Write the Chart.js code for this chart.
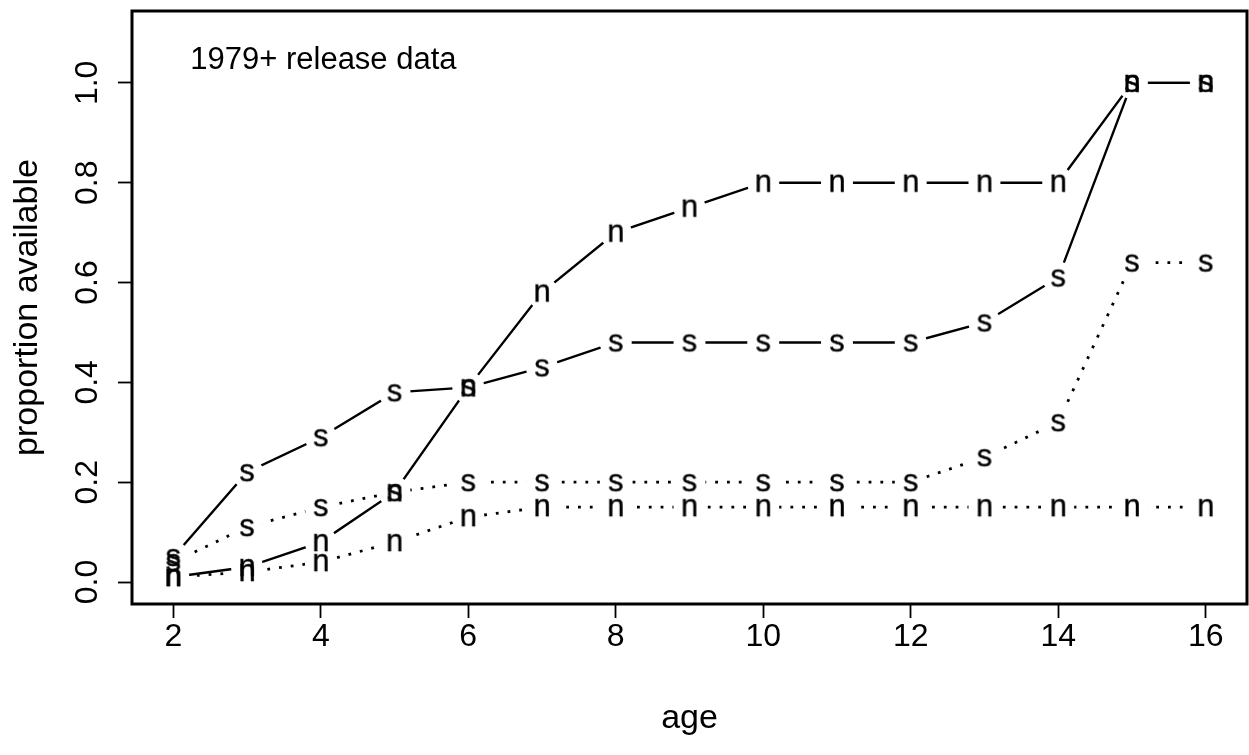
<!DOCTYPE html>
<html>
<head>
<meta charset="utf-8">
<title>proportion available by age</title>
<script src="https://cdn.jsdelivr.net/npm/chart.js@4/dist/chart.umd.min.js"></script>
<style>
  html, body { margin: 0; padding: 0; background: #fff; overflow: hidden; }
  #wrap { width: 1249px; height: 755px; overflow: hidden; }
</style>
</head>
<body>
<div id="wrap"><canvas id="c" width="1258" height="755"></canvas></div>
<script>
// ── data ──────────────────────────────────────────
const ages    = [2, 3, 4, 5, 6, 7, 8, 9, 10, 11, 12, 13, 14, 15, 16];
const nSolid  = [0.01, 0.03, 0.08, 0.18, 0.39, 0.58, 0.70, 0.75, 0.80, 0.80, 0.80, 0.80, 0.80, 1.00, 1.00];
const sSolid  = [0.05, 0.22, 0.29, 0.38, 0.39, 0.43, 0.48, 0.48, 0.48, 0.48, 0.48, 0.52, 0.61, 1.00, 1.00];
const sDotted = [0.04, 0.11, 0.15, 0.18, 0.20, 0.20, 0.20, 0.20, 0.20, 0.20, 0.20, 0.25, 0.32, 0.64, 0.64];
const nDotted = [0.01, 0.02, 0.04, 0.08, 0.13, 0.15, 0.15, 0.15, 0.15, 0.15, 0.15, 0.15, 0.15, 0.15, 0.15];

const xTicks = [2, 4, 6, 8, 10, 12, 14, 16];
const yTicks = [0, 0.2, 0.4, 0.6, 0.8, 1.0];
const noteText = '1979+ release data';
const noteAt = { x: 2.23, y: 1.045 };

const FONT = '"Liberation Sans", Arial, Helvetica, sans-serif';
const SIZE = 31;      // symbols, note
const AXSIZE = 32;    // tick labels
const LABSIZE = 34;   // axis titles

// letter used as plotting symbol (R style pch="n" / "s")
function letterMark(ch) {
    const c = document.createElement('canvas');
    c.width = 32; c.height = 32;
    const g = c.getContext('2d');
    g.font = `${SIZE}px ${FONT}`;
    g.fillStyle = '#000';
    g.strokeStyle = '#000';
    g.lineWidth = 0.35;
    g.textAlign = 'center';
    g.textBaseline = 'alphabetic';
    const m = g.measureText(ch);
    const by = 16 + (m.actualBoundingBoxAscent - m.actualBoundingBoxDescent) / 2;
    g.fillText(ch, 16, by);
    g.strokeText(ch, 16, by);
    return c;
}

const pts = vals => ages.map((a, i) => ({ x: a, y: vals[i] }));

function lineSet(vals, dotted) {
    return {
        data: pts(vals),
        showLine: true,
        borderColor: '#000',
        borderWidth: dotted ? 2.8 : 2.4,
        borderDash: dotted ? [2.8, 9] : [],
        pointRadius: 0,
        gap: 16,
    };
}

function letterSet(vals, ch) {
    return {
        data: pts(vals),
        showLine: false,
        pointStyle: letterMark(ch),
        pointRadius: 10,
    };
}

// ── R type="b": leave a gap around each symbol ──────────────────────
const gapPlugin = {
    id: 'gaps',
    beforeDatasetDraw(chart, args) {
        const ds = chart.data.datasets[args.index];
        if (!ds.gap) return;
        const ctx = chart.ctx;
        ctx.save();
        ctx.beginPath();
        ctx.rect(0, 0, chart.width, chart.height);
        args.meta.data.forEach(p => {
            ctx.moveTo(p.x + ds.gap, p.y);
            ctx.arc(p.x, p.y, ds.gap, 0, Math.PI * 2);
        });
        ctx.clip('evenodd');
    },
    afterDatasetDraw(chart, args) {
        if (chart.data.datasets[args.index].gap) chart.ctx.restore();
    }
};

// plot box + text note
const boxPlugin = {
    id: 'box',
    beforeDatasetsDraw(chart) {
        const { ctx, chartArea: a } = chart;
        ctx.save();
        ctx.strokeStyle = '#000';
        ctx.lineWidth = 3;
        ctx.strokeRect(a.left, a.top, a.right - a.left, a.bottom - a.top);
        ctx.restore();
    },
    afterDraw(chart) {
        const { ctx, scales: { x, y } } = chart;
        ctx.save();
        ctx.fillStyle = '#000';
        ctx.font = `${SIZE}px ${FONT}`;
        ctx.textAlign = 'left';
        ctx.textBaseline = 'middle';
        ctx.fillText(noteText, x.getPixelForValue(noteAt.x), y.getPixelForValue(noteAt.y));
        ctx.restore();
    }
};

const tickFont = { family: FONT, size: AXSIZE };
const labFont = { family: FONT, size: LABSIZE };

new Chart(document.getElementById('c'), {
    type: 'scatter',
    data: {
        datasets: [
            lineSet(nSolid, false), letterSet(nSolid, 'n'),
            lineSet(sSolid, false), letterSet(sSolid, 's'),
            lineSet(sDotted, true), letterSet(sDotted, 's'),
            lineSet(nDotted, true), letterSet(nDotted, 'n'),
        ]
    },
    options: {
        responsive: false,
        animation: false,
        events: [],
        layout: { padding: { top: 5, left: 0, right: 6, bottom: 0 } },
        plugins: { legend: { display: false }, tooltip: { enabled: false } },
        scales: {
            x: {
                type: 'linear', min: 1.44, max: 16.56,
                afterBuildTicks: s => { s.ticks = xTicks.map(v => ({ value: v })); },
                afterFit: s => { s.height = 151; s.paddingLeft = 0; s.paddingRight = 0; },
                grid: { drawOnChartArea: false, drawTicks: true, tickLength: 14, tickColor: '#000', tickWidth: 1.8 },
                border: { display: false },
                ticks: { color: '#000', font: tickFont, padding: 0, maxRotation: 0, autoSkip: false,
                         callback: v => String(v) },
                title: { display: true, text: 'age', color: '#000', font: labFont, padding: { top: 0, bottom: 16 } }
            },
            y: {
                type: 'linear', min: -0.044, max: 1.144,
                afterBuildTicks: s => { s.ticks = yTicks.map(v => ({ value: v })); },
                afterFit: s => { s.width = 132; s.paddingTop = 0; s.paddingBottom = 0; },
                grid: { drawOnChartArea: false, drawTicks: true, tickLength: 14, tickColor: '#000', tickWidth: 1.8 },
                border: { display: false },
                ticks: { color: '#000', font: tickFont, padding: 8, minRotation: 90, maxRotation: 90,
                         crossAlign: 'center', autoSkip: false, callback: v => v.toFixed(1) },
                title: { display: true, text: 'proportion available', color: '#000', font: labFont,
                         padding: { top: 7, bottom: 0 } }
            }
        }
    },
    plugins: [gapPlugin, boxPlugin]
});
</script>
</body>
</html>
